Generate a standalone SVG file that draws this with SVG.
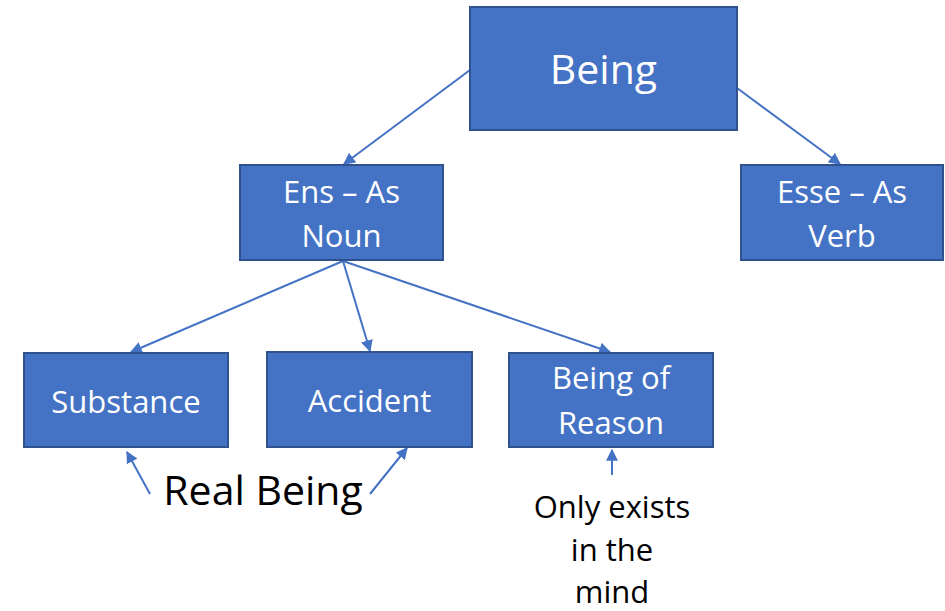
<svg xmlns="http://www.w3.org/2000/svg" width="945" height="611" viewBox="0 0 945 611">
<defs>
<marker id="ah" viewBox="0 0 10 10" refX="9" refY="5" markerWidth="6" markerHeight="6" orient="auto" markerUnits="strokeWidth">
<path d="M0,0 L10,5 L0,10 z" fill="#4472C4"/>
</marker>
<style>
.box{fill:#4472C4;stroke:#2F528F;stroke-width:2}
.wt{fill:#fff;font-family:"Open Sans",Lato,"Liberation Sans",sans-serif;text-anchor:middle}
.bt{fill:#000;font-family:"Open Sans",Lato,"Liberation Sans",sans-serif;text-anchor:middle}
.c{stroke:#4472C4;stroke-width:2;fill:none;marker-end:url(#ah)}
</style>
</defs>
<rect width="945" height="611" fill="#fff"/>
<g id="connectors">
<line class="c" x1="470" y1="70" x2="344" y2="164"/>
<line class="c" x1="737" y1="88" x2="840" y2="164"/>
<line class="c" x1="343" y1="261" x2="131" y2="352"/>
<line class="c" x1="343" y1="261" x2="370" y2="351"/>
<line class="c" x1="343" y1="261" x2="610" y2="352"/>
<line class="c" x1="150" y1="494" x2="127" y2="452"/>
<line class="c" x1="370" y1="494" x2="407" y2="448"/>
<line class="c" x1="612" y1="475" x2="612" y2="450"/>
</g>
<g id="being">
<rect class="box" x="470" y="7" width="267" height="123"/>
<text class="wt" x="603.5" y="84" font-size="41">Being</text>
</g>
<g id="ens">
<rect class="box" x="240" y="165" width="203" height="95"/>
<text class="wt" x="341.5" y="203" font-size="31">Ens – As</text>
<text class="wt" x="341.5" y="247" font-size="31">Noun</text>
</g>
<g id="esse">
<rect class="box" x="741" y="165" width="202" height="95"/>
<text class="wt" x="842" y="203" font-size="31">Esse – As</text>
<text class="wt" x="842" y="247" font-size="31">Verb</text>
</g>
<g id="substance">
<rect class="box" x="24" y="353" width="204" height="94"/>
<text class="wt" x="126" y="413" font-size="31">Substance</text>
</g>
<g id="accident">
<rect class="box" x="267" y="352" width="205" height="95"/>
<text class="wt" x="369.5" y="412" font-size="31">Accident</text>
</g>
<g id="reason">
<rect class="box" x="509" y="353" width="204" height="94"/>
<text class="wt" x="611" y="389" font-size="31">Being of</text>
<text class="wt" x="611" y="434" font-size="31">Reason</text>
</g>
<g id="realbeing">
<text class="bt" x="263" y="505" font-size="41">Real Being</text>
</g>
<g id="onlyexists">
<text class="bt" x="612" y="518" font-size="31">Only exists</text>
<text class="bt" x="612" y="561" font-size="31">in the</text>
<text class="bt" x="612" y="603" font-size="31">mind</text>
</g>
</svg>
